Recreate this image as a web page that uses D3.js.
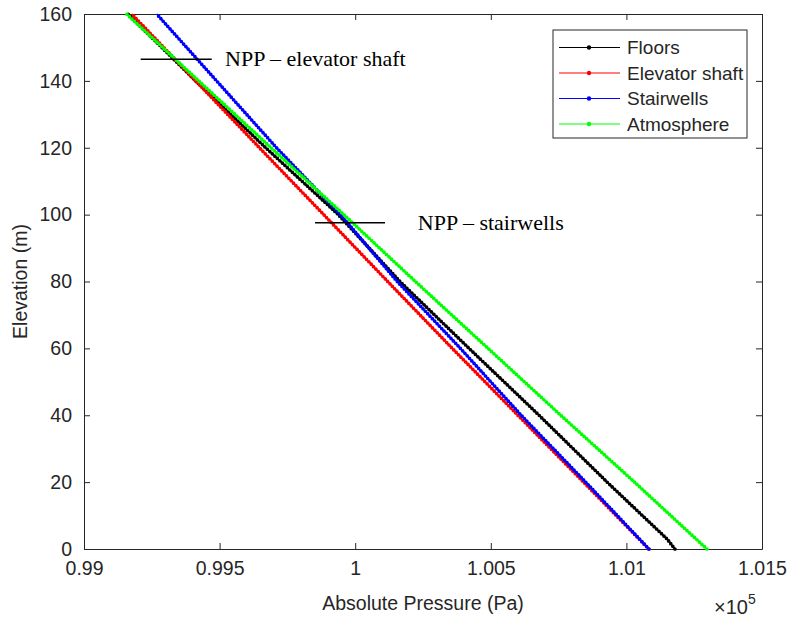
<!DOCTYPE html>
<html lang="en">
<head>
<meta charset="utf-8">
<title>Pressure vs elevation</title>
<script src="https://d3js.org/d3.v7.min.js"></script>
<style>
body { margin: 0; background: #fff; }
.axis text { font: 19.5px "Liberation Sans", Arial, sans-serif; fill: #262626; }
.axis path, .axis line { stroke: #262626; }
.npp { font: 22px "Liberation Serif", "Times New Roman", serif; fill: #000; }
</style>
</head>
<body>
<svg id="chart" width="793" height="620"></svg>
<script>
// values (pressure in units of 1e5 Pa)
var elevation = [0, 20, 40, 60, 80, 100, 120, 140, 160];
var floorsElev = [0, 3, 20, 40, 60, 80, 100, 120, 140, 160];
var floors = [1.01179, 1.01150, 1.00929, 1.00678, 1.00420, 1.00165, 0.99938, 0.99670, 0.99412, 0.99162];
var elevatorShaft = [1.01083, 1.00842, 1.00600, 1.00358, 1.00120, 0.99884, 0.99647, 0.99412, 0.99176];
var stairwells = [1.01083, 1.00850, 1.00612, 1.00388, 1.00155, 0.99946, 0.99710, 0.99489, 0.99268];
var atmosphere = [1.01297, 1.01030, 1.00758, 1.00490, 1.00222, 0.99958, 0.99690, 0.99423, 0.99157];

var xTicks = [0.99, 0.995, 1, 1.005, 1.01, 1.015];
var yTicks = [0, 20, 40, 60, 80, 100, 120, 140, 160];

var series = [
    {name: "Floors", color: "#000000", elev: floorsElev, p: floors},
    {name: "Elevator shaft", color: "#ff0000", elev: elevation, p: elevatorShaft},
    {name: "Stairwells", color: "#0000ff", elev: elevation, p: stairwells},
    {name: "Atmosphere", color: "#00ff00", elev: elevation, p: atmosphere}
];

// neutral pressure plane marks
var npp = [
    {label: "NPP \u2013 elevator shaft", elev: 146.5, p0: 0.99209, p1: 0.99471, tp: 0.99520, tdy: 7},
    {label: "NPP \u2013 stairwells", elev: 97.6, p0: 0.99852, p1: 1.00110, tp: 1.00231, tdy: 7}
];

var svg = d3.select("#chart"),
    margin = {top: 14, right: 31, bottom: 71, left: 84},
    width = +svg.attr("width") - margin.left - margin.right,
    height = +svg.attr("height") - margin.top - margin.bottom,
    g = svg.append("g").attr("transform", "translate(" + margin.left + "," + margin.top + ")");

var x = d3.scaleLinear().domain([0.99, 1.015]).range([0, width]);
var y = d3.scaleLinear().domain([0, 160]).range([height, 0]);

var fmt = function(d) { return d3.format("~g")(d); };

// axes, matlab style: ticks inward and mirrored
g.append("g").attr("class", "axis")
    .attr("transform", "translate(0," + height + ")")
    .call(d3.axisBottom(x).tickValues(xTicks).tickFormat(fmt).tickSizeInner(-6).tickSizeOuter(0).tickPadding(12));
g.append("g").attr("class", "axis")
    .call(d3.axisTop(x).tickValues(xTicks).tickFormat("").tickSizeInner(-6).tickSizeOuter(0));
g.append("g").attr("class", "axis")
    .call(d3.axisLeft(y).tickValues(yTicks).tickSizeInner(-6).tickSizeOuter(0).tickPadding(12));
g.append("g").attr("class", "axis")
    .attr("transform", "translate(" + width + ",0)")
    .call(d3.axisRight(y).tickValues(yTicks).tickFormat("").tickSizeInner(-6).tickSizeOuter(0));

var line = d3.line()
    .x(function(d) { return x(d[1]); })
    .y(function(d) { return y(d[0]); });

series.forEach(function(s) {
    var pts = s.elev.map(function(e, i) { return [e, s.p[i]]; });
    g.append("path")
        .attr("d", line(pts))
        .attr("fill", "none")
        .attr("stroke", s.color)
        .attr("stroke-width", 1.6);
    // dense dot markers along the line
    g.append("path")
        .attr("d", line(pts))
        .attr("fill", "none")
        .attr("stroke", s.color)
        .attr("stroke-width", 3.7)
        .attr("stroke-linecap", "round")
        .attr("stroke-dasharray", "0 3.4");
});

npp.forEach(function(n) {
    g.append("line")
        .attr("x1", x(n.p0)).attr("x2", x(n.p1))
        .attr("y1", y(n.elev)).attr("y2", y(n.elev))
        .attr("stroke", "#000").attr("stroke-width", 1.5);
    g.append("text")
        .attr("class", "npp")
        .attr("x", x(n.tp))
        .attr("y", y(n.elev) + n.tdy)
        .text(n.label);
});

// legend
var lg = svg.append("g").attr("transform", "translate(553,30)");
lg.append("rect")
    .attr("width", 194).attr("height", 108)
    .attr("fill", "#fff").attr("stroke", "#262626").attr("stroke-width", 1);
series.forEach(function(s, i) {
    var yy = 17.5 + i * 25.5;
    lg.append("line")
        .attr("x1", 6).attr("x2", 67).attr("y1", yy).attr("y2", yy)
        .attr("stroke", s.color).attr("stroke-width", 1.2);
    lg.append("circle")
        .attr("cx", 36).attr("cy", yy).attr("r", 2.2)
        .attr("fill", s.color);
    lg.append("text")
        .attr("x", 74).attr("y", yy).attr("dy", "0.35em")
        .style("font", "19px 'Liberation Sans', Arial, sans-serif")
        .attr("fill", "#262626")
        .text(s.name);
});

// axis labels
svg.append("text")
    .attr("x", margin.left + width / 2).attr("y", 610)
    .attr("text-anchor", "middle")
    .style("font", "19.5px 'Liberation Sans', Arial, sans-serif")
    .attr("fill", "#262626")
    .text("Absolute Pressure (Pa)");
svg.append("text")
    .attr("transform", "translate(27," + (margin.top + height / 2) + ") rotate(-90)")
    .attr("text-anchor", "middle")
    .style("font", "19.5px 'Liberation Sans', Arial, sans-serif")
    .attr("fill", "#262626")
    .text("Elevation (m)");

var exp = svg.append("text")
    .attr("x", 714).attr("y", 614)
    .style("font", "20px 'Liberation Sans', Arial, sans-serif")
    .attr("fill", "#262626");
exp.append("tspan").text("\u00d710");
exp.append("tspan").attr("dy", -10).style("font-size", "14px").text("5");
</script>
</body>
</html>
